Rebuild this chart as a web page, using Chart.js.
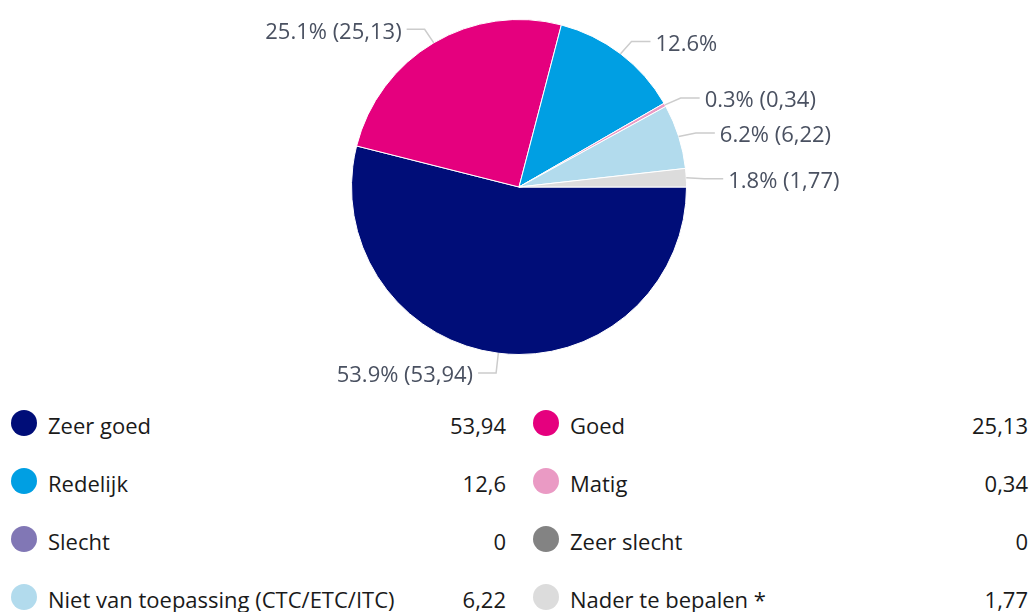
<!DOCTYPE html>
<html>
<head>
<meta charset="utf-8">
<script src="https://cdn.jsdelivr.net/npm/chart.js@4"></script>
<style>
    body { margin: 0; background: #fff; font-family: 'Open Sans', sans-serif; }
    #wrap { position: relative; width: 1032px; height: 612px; overflow: hidden; }
    #pie { position: absolute; left: 0; top: 0; }
    #legend { position: absolute; left: 0; top: 405px; width: 1032px; }
    .row { position: absolute; height: 40px; font-size: 22px; color: #1a1a1a; line-height: 40px; }
    .dot { position: absolute; top: 5px; width: 26px; height: 26px; border-radius: 50%; }
    .name { position: absolute; white-space: nowrap; }
    .val { position: absolute; right: 0; white-space: nowrap; }
</style>
</head>
<body>
<div id="wrap">
    <canvas id="pie" width="1032" height="400"></canvas>
    <div id="legend"></div>
</div>
<script>
const categories = ['Zeer goed', 'Goed', 'Redelijk', 'Matig', 'Slecht', 'Zeer slecht', 'Niet van toepassing (CTC/ETC/ITC)', 'Nader te bepalen *'];
const values = [53.94, 25.13, 12.6, 0.34, 0, 0, 6.22, 1.77];
const colors = ['#000d78', '#e5007e', '#009fe3', '#ea9ac4', '#8177b5', '#838383', '#b2dbed', '#dcdcdc'];
const sliceLabels = ['53.9% (53,94)', '25.1% (25,13)', '12.6%', '0.3% (0,34)', '', '', '6.2% (6,22)', '1.8% (1,77)'];

// outside labels with bent connectors
const outsideLabels = {
    id: 'outsideLabels',
    afterDatasetsDraw(chart) {
        const ctx = chart.ctx;
        const arcs = chart.getDatasetMeta(0).data;
        const items = [];
        arcs.forEach(function (arc, i) {
            if (!values[i]) return;
            const mid = (arc.startAngle + arc.endAngle) / 2;
            const r = arc.outerRadius;
            const cos = Math.cos(mid), sin = Math.sin(mid);
            items.push({
                i: i,
                right: cos >= 0,
                ex: arc.x + cos * r, ey: arc.y + sin * r,
                bx: arc.x + cos * (r + 18), by: arc.y + sin * (r + 18) + 2
            });
        });
        // keep labels apart and inside the canvas
        [true, false].forEach(function (side) {
            const list = items.filter(it => it.right === side).sort((a, b) => a.by - b.by);
            let last = -Infinity;
            list.forEach(function (it) {
                let y = Math.max(it.by, 28, last + 30);
                it.ly = y;
                last = y;
            });
        });
        ctx.save();
        ctx.font = '22px "Open Sans"';
        ctx.textBaseline = 'middle';
        items.forEach(function (it) {
            const endX = it.bx + (it.right ? 19 : -18);
            ctx.strokeStyle = '#cccccc';
            ctx.lineWidth = 1.5;
            ctx.beginPath();
            ctx.moveTo(it.ex, it.ey);
            ctx.lineTo(it.bx, it.ly);
            ctx.lineTo(endX, it.ly);
            ctx.stroke();
            ctx.fillStyle = '#4a5161';
            ctx.textAlign = it.right ? 'left' : 'right';
            ctx.fillText(sliceLabels[it.i], endX + (it.right ? 5 : -5), it.ly + 3);
        });
        ctx.restore();
    }
};

new Chart(document.getElementById('pie'), {
    type: 'pie',
    data: {
        labels: categories,
        datasets: [{
            data: values,
            backgroundColor: colors,
            borderColor: '#ffffff',
            borderWidth: 1,
            hoverOffset: 0
        }]
    },
    options: {
        responsive: false,
        animation: false,
        rotation: 90,
        layout: { padding: { left: 351, right: 345, top: 19, bottom: 45 } },
        plugins: {
            legend: { display: false },
            tooltip: { enabled: false }
        }
    },
    plugins: [outsideLabels]
});

// legend table, two columns
const legend = document.getElementById('legend');
categories.forEach(function (name, i) {
    const col = i % 2, row = Math.floor(i / 2);
    const el = document.createElement('div');
    el.className = 'row';
    el.style.top = (row * 58) + 'px';
    el.style.left = (col === 0 ? 11 : 533) + 'px';
    el.style.width = '495px';
    el.innerHTML = '<span class="dot" style="background:' + colors[i] + '"></span>' +
        '<span class="name" style="left:37px">' + name + '</span>' +
        '<span class="val">' + String(values[i]).replace('.', ',') + '</span>';
    legend.appendChild(el);
});
</script>
</body>
</html>
